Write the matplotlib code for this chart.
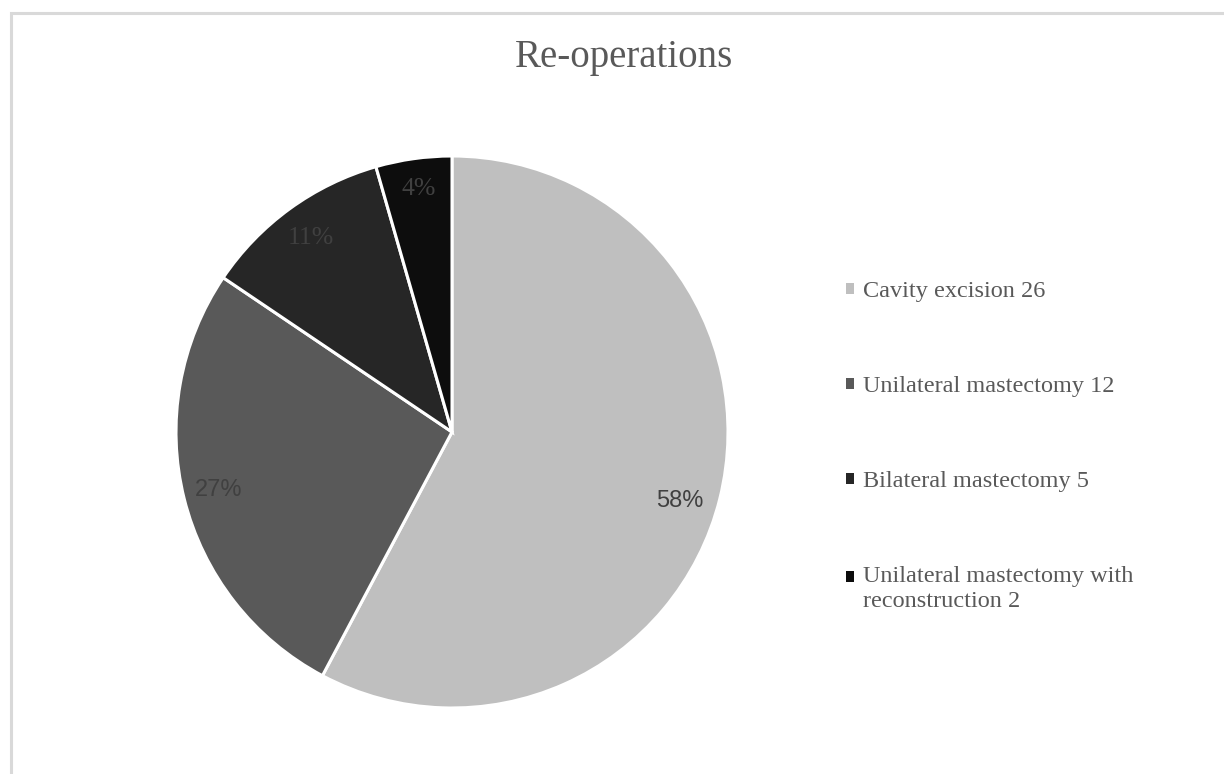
import matplotlib
matplotlib.use('Agg')
import matplotlib.pyplot as plt
from matplotlib.patches import Rectangle

# data
categories = ['Cavity excision 26', 'Unilateral mastectomy 12',
              'Bilateral mastectomy 5', 'Unilateral mastectomy with\nreconstruction 2']
counts = [26, 12, 5, 2]
colors = ['#bfbfbf', '#595959', '#262626', '#0d0d0d']
label_fonts = ['Liberation Sans', 'Liberation Sans', 'Liberation Serif', 'Liberation Serif']
label_sizes = [17, 17, 18.5, 18.5]

W, H, DPI = 1224, 774, 100
fig = plt.figure(figsize=(W / DPI, H / DPI), dpi=DPI)

# light grey chart border (runs off the right/bottom edge)
fig.patches.append(Rectangle((10.5 / W, -0.1), 1.2, (H - 13.5) / H + 0.1,
                             transform=fig.transFigure, fill=False,
                             edgecolor='#d9d9d9', lw=2.2))

cx, cy, r = 452, 432, 276
ax = fig.add_axes([(cx - r) / W, (H - cy - r) / H, 2 * r / W, 2 * r / H])
wedges, texts, autotexts = ax.pie(
    counts, colors=colors, startangle=90, counterclock=False,
    autopct=lambda p: f'{p:.0f}%', pctdistance=0.87, radius=1,
    wedgeprops=dict(edgecolor='white', linewidth=2.2))
for t, fam, sz in zip(autotexts, label_fonts, label_sizes):
    t.set_color('#404040')
    t.set_fontsize(sz)
    t.set_fontfamily(fam)
# excel "best fit" puts the big slice label a bit lower
x0, y0 = autotexts[0].get_position()
autotexts[0].set_position((x0 - 0.02, y0 - 0.04))
x3, y3 = autotexts[3].get_position()
autotexts[3].set_position((x3, y3 + 0.02))
ax.set_xlim(-1, 1)
ax.set_ylim(-1, 1)
ax.set_aspect('equal')

fig.text(624 / W, 1 - 57 / H, 'Re-operations', ha='center', va='center',
         fontsize=28, color='#595959', family='Liberation Serif')

leg = fig.legend(wedges, categories, loc='upper left',
                 bbox_to_anchor=(846 / W, 1 - 281 / H), frameon=False,
                 prop={'family': 'Liberation Serif', 'size': 17.5},
                 labelcolor='#595959', handlelength=0.33, handleheight=0.33,
                 handletextpad=0.35, labelspacing=3.05, borderpad=0, borderaxespad=0)
for h in leg.legend_handles:
    h.set_linewidth(0)
for t in leg.get_texts():
    t.set_linespacing(1.25)
# marker of the two-line entry sits beside its first line
last = leg.legend_handles[-1]
last.set_y(last.get_y() + 9)

fig.savefig('out.png', dpi=DPI)
